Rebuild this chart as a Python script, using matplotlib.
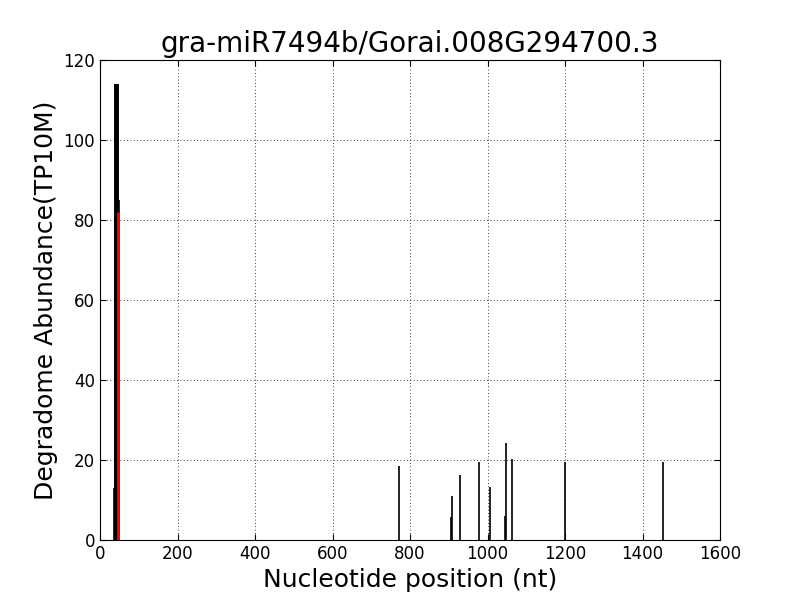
import matplotlib
matplotlib.use("Agg")
import matplotlib.pyplot as plt

title = "gra-miR7494b/Gorai.008G294700.3"
xlabel = "Nucleotide position (nt)"
ylabel = "Degradome Abundance(TP10M)"

positions = [36, 38, 39, 40, 41, 42, 43, 44, 45, 46, 47, 48,
             772, 907, 909, 930, 979, 1007, 1046, 1047, 1062, 1201, 1454]
values = [13, 114, 114, 114, 114, 114, 114, 114, 114, 114, 114, 85,
          18.5, 5.7, 11, 16.2, 19.4, 13.2, 6, 24.2, 20.2, 19.4, 19.6]

cleave_pos = [46]
cleave_val = [82]

xticks = [0, 200, 400, 600, 800, 1000, 1200, 1400, 1600]
yticks = [0, 20, 40, 60, 80, 100, 120]

plt.rcParams['font.family'] = ['DejaVu Sans']
fig = plt.figure(figsize=(8, 6), dpi=100, facecolor='white')
ax = fig.add_axes([0.125, 0.1, 0.775, 0.8])
ax.vlines(positions, 0, values, colors='black', linewidth=1.2)
ax.vlines(cleave_pos, 0, cleave_val, colors='red', linewidth=2)
ax.set_xlim(0, 1600)
ax.set_ylim(0, 120)
ax.set_xticks(xticks)
ax.set_yticks(yticks)
ax.grid(True, color='black', linestyle=(0, (1, 3)), linewidth=0.6)
ax.tick_params(direction='in', top=True, right=True, length=4, labelsize=12)
ax.set_title(title, fontsize=20)
ax.set_xlabel(xlabel, fontsize=18)
ax.set_ylabel(ylabel, fontsize=18)
fig.savefig("out.png", dpi=100, facecolor='white')
